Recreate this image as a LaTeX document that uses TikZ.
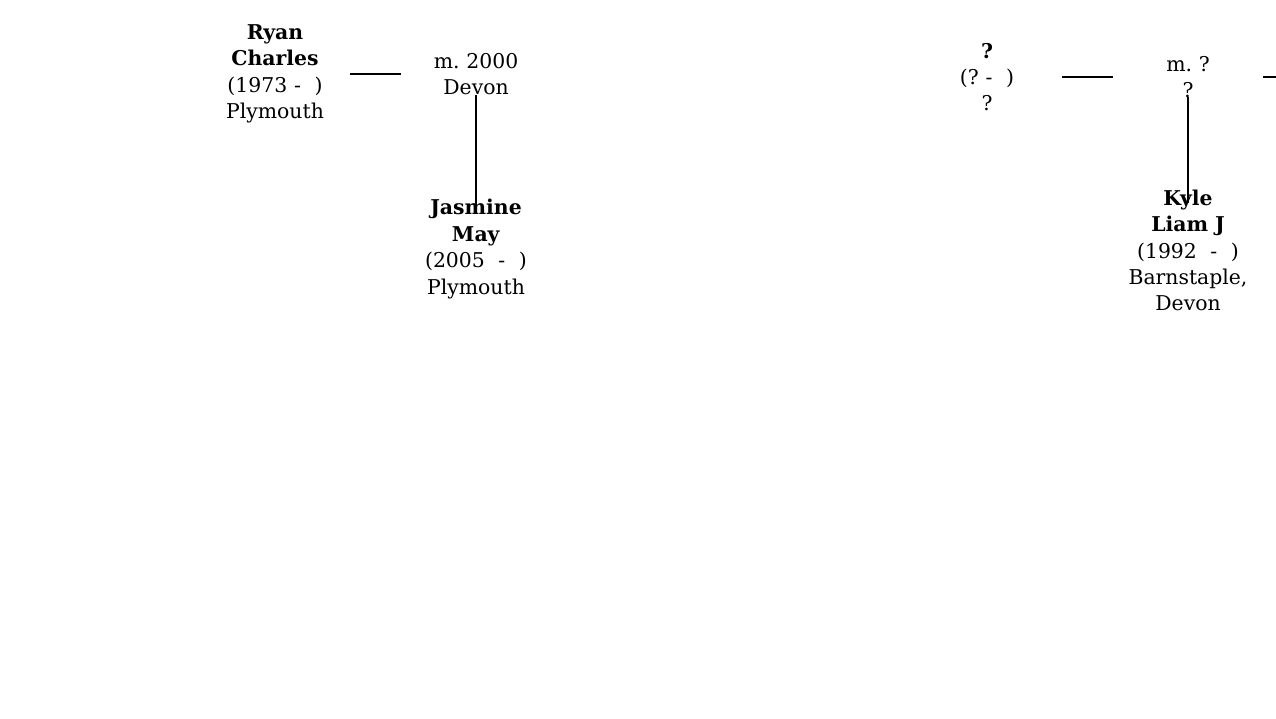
\documentclass[tikz,border=0pt]{standalone}
\usepackage{fontspec}
\setmainfont{DejaVu Serif}
\usepackage{tikz}
\usetikzlibrary{positioning}
\frenchspacing

\begin{document}
\begin{tikzpicture}[x=1cm,y=1cm,
  person/.style={text width=2.4cm,align=center,inner sep=0pt,font=\fontsize{11.6}{15}\selectfont},
  union/.style={text width=1.8cm,align=center,inner sep=0pt,font=\fontsize{11.6}{15}\selectfont},
  spouse/.style={line width=1.6pt,shorten <=0.30cm,shorten >=0.6cm},
  descent/.style={line width=1.2pt}]
  \useasboundingbox (0,0) rectangle (25.52,14.38);

  % left family
  \node[person] (ryan) at (5.50,12.90) {\textbf{Ryan}\\\textbf{Charles}\\(1973 -\ \ )\\Plymouth};
  \node[union] (m1) at (9.52,12.90) {m. 2000\\Devon};
  \node[person] (jasmine) at (9.52,9.40) {\textbf{Jasmine}\\\textbf{May}\\(2005 \ - \ )\\Plymouth};

  \draw[spouse] (ryan.east) -- (m1.west);
  \draw[descent,shorten <=0.42cm,shorten >=0.78cm] (m1.center) -- (jasmine.center);

  % right family
  \node[person] (unknown) at (19.74,12.84) {\textbf{?}\\(? -\ \ )\\?};
  \node[union] (m2) at (23.76,12.84) {m. ?\\?};
  \node[person] (kyle) at (23.76,9.37) {\textbf{Kyle}\\\textbf{Liam J}\\(1992 \ - \ )\\Barnstaple,\\Devon};
  \coordinate (next) at (26.2,12.84);

  \draw[spouse] (unknown.east) -- (m2.west);
  \draw[spouse,shorten <=0.6cm,shorten >=0cm] (m2.east) -- (next);
  \draw[descent,shorten <=0.40cm,shorten >=0.95cm] (m2.center) -- (kyle.center);
\end{tikzpicture}
\end{document}
